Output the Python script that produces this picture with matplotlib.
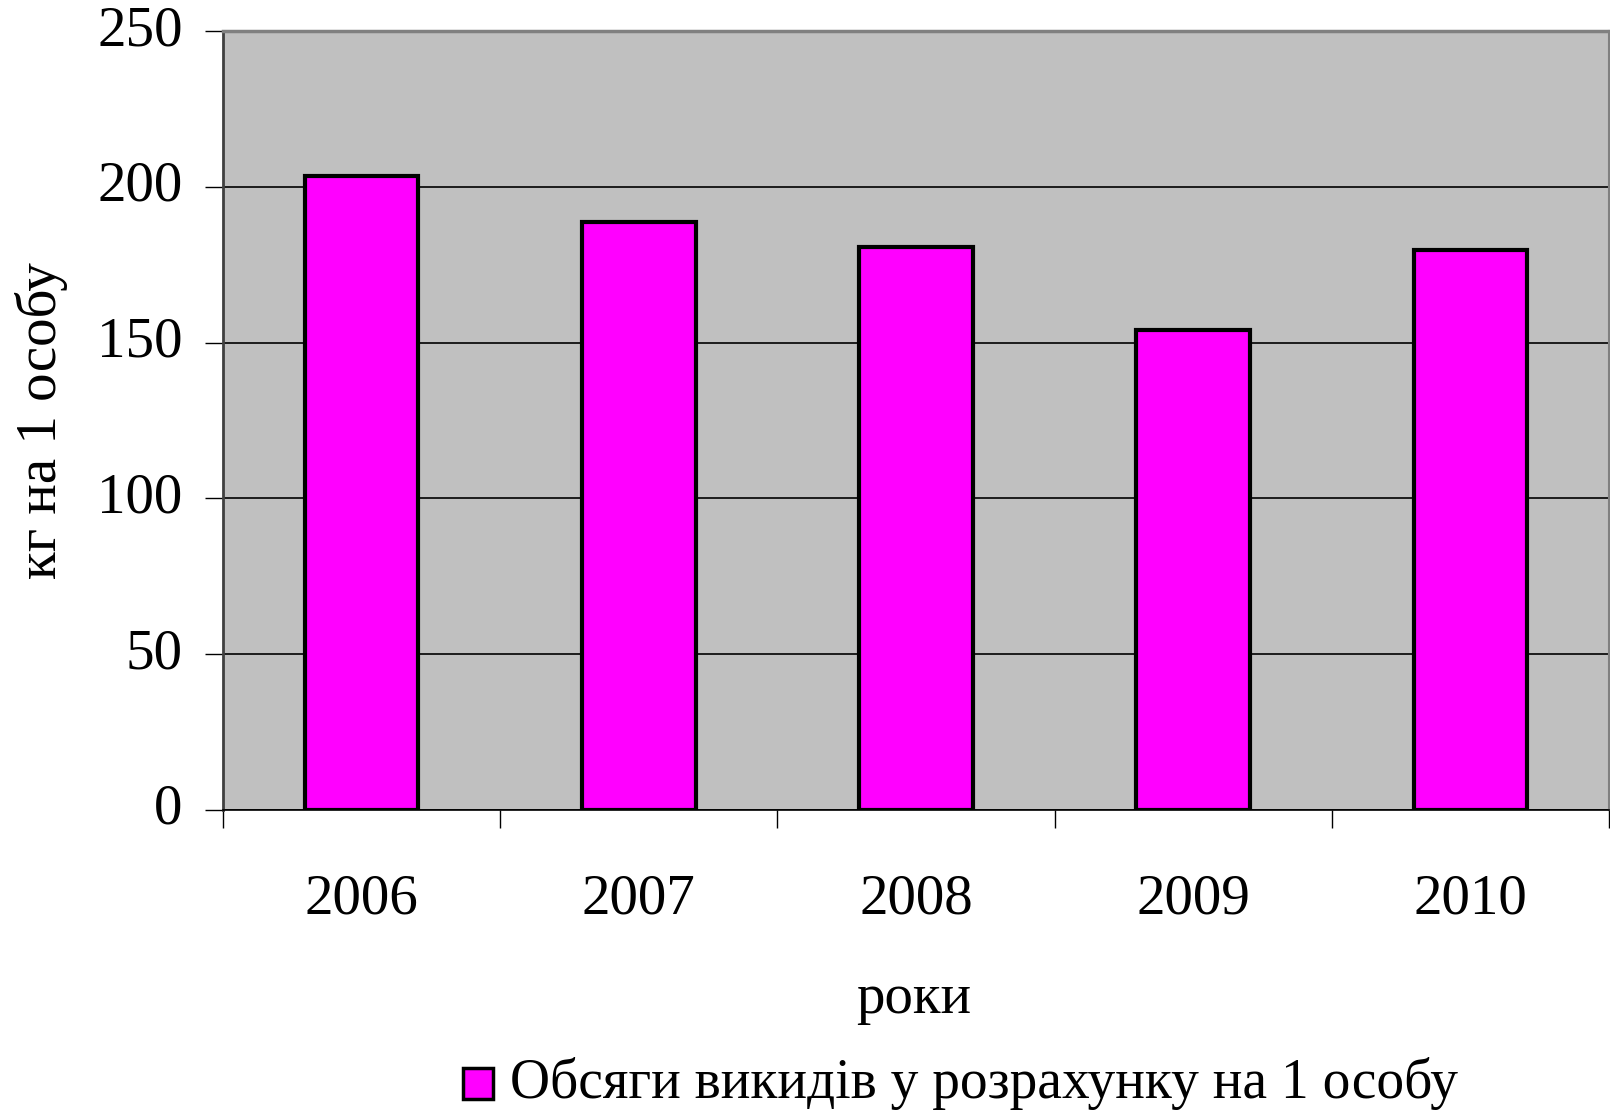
import matplotlib
matplotlib.use("Agg")
import matplotlib.pyplot as plt
import numpy as np

years = ["2006", "2007", "2008", "2009", "2010"]
values = [203.5, 188.8, 180.7, 153.9, 179.7]
yticks = [0, 50, 100, 150, 200, 250]
ylabel = "кг на 1 особу"
xlabel = "роки"
legend_label = "Обсяги викидів у розрахунку на 1 особу"

plt.rcParams['font.family'] = ['Liberation Serif', 'DejaVu Serif']

W, H = 1610, 1112
fig = plt.figure(figsize=(W / 100, H / 100), dpi=100)
ax = fig.add_axes([223 / W, 1 - 810 / H, (1609 - 223) / W, (810 - 31) / H])
ax.set_facecolor("#c0c0c0")

x = np.arange(len(years))
ax.bar(x, values, width=0.41, color="#ff00ff", edgecolor="black", linewidth=3, zorder=3)

ax.set_xlim(-0.5, len(years) - 0.5)
ax.set_ylim(0, 250)
ax.set_yticks(yticks)
ax.set_yticklabels([str(v) for v in yticks], fontsize=41, va="center")
ax.yaxis.grid(True, color="black", linewidth=1.2, zorder=1)
ax.set_axisbelow(True)
ax.tick_params(axis="y", direction="out", length=13, width=1, pad=16)
for lbl in ax.get_yticklabels():
    lbl.set_y(lbl.get_position()[1])

ax.set_xticks(np.arange(-0.5, len(years), 1.0))
ax.set_xticklabels([])
ax.set_xticks(x, minor=True)
ax.set_xticklabels(years, minor=True, fontsize=41)
ax.tick_params(axis="x", which="major", direction="out", length=13, width=1)
ax.tick_params(axis="x", which="minor", length=0, pad=46)

for s in ["top", "right"]:
    ax.spines[s].set_color("#808080")
ax.spines["top"].set_linewidth(2.5)
ax.spines["right"].set_linewidth(1.5)
ax.spines["left"].set_color("#404040")
ax.spines["left"].set_linewidth(2)
ax.spines["bottom"].set_color("black")
ax.spines["bottom"].set_linewidth(1.2)

fig.text(41 / W, 1 - 421 / H, ylabel, rotation=90, fontsize=41, ha="center", va="center")
fig.text(914 / W, 1 - 999 / H, xlabel, fontsize=41, ha="center", va="center")

# legend
from matplotlib.patches import Rectangle
fig.patches.append(Rectangle((463 / W, 1 - 1099 / H), 30 / W, 31 / H, transform=fig.transFigure,
                             facecolor="#ff00ff", edgecolor="black", linewidth=2.5, figure=fig))
fig.text(510 / W, 1 - 1083 / H, legend_label, fontsize=40, ha="left", va="center")

fig.savefig("out.png", dpi=100)
